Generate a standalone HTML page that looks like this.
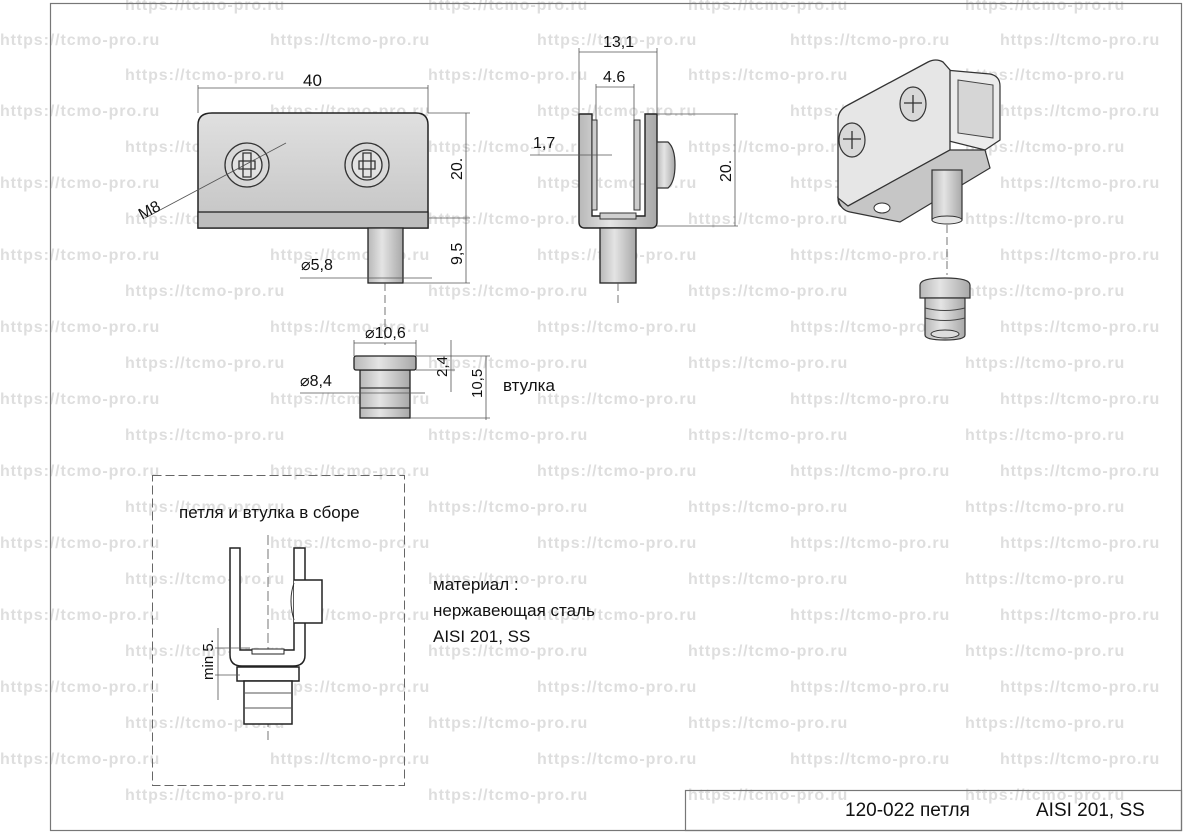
<!DOCTYPE html>
<html><head><meta charset="utf-8"><style>
html,body{margin:0;padding:0;background:#fff;}
svg{display:block;}
.wm{font-family:"Liberation Sans",sans-serif;font-weight:bold;font-size:16px;letter-spacing:0.9px;fill:#dedede;}
.t{font-family:"Liberation Sans","Noto Sans CJK SC",sans-serif;fill:#111;}
.ln{stroke:#555;stroke-width:0.8;fill:none;}
</style></head><body>
<svg width="1189" height="838" viewBox="0 0 1189 838" xmlns="http://www.w3.org/2000/svg">
<defs>
<linearGradient id="gv" x1="0" y1="0" x2="0" y2="1"><stop offset="0" stop-color="#e0e0e0"/><stop offset="1" stop-color="#c4c4c4"/></linearGradient>
<linearGradient id="gh" x1="0" y1="0" x2="1" y2="0"><stop offset="0" stop-color="#b8b8b8"/><stop offset="0.4" stop-color="#e4e4e4"/><stop offset="1" stop-color="#a8a8a8"/></linearGradient>
</defs>
<g class="wm">
<text x="125" y="10">https://tcmo-pro.ru</text><text x="428" y="10">https://tcmo-pro.ru</text><text x="688" y="10">https://tcmo-pro.ru</text><text x="965" y="10">https://tcmo-pro.ru</text>
<text x="0" y="45">https://tcmo-pro.ru</text><text x="270" y="45">https://tcmo-pro.ru</text><text x="537" y="45">https://tcmo-pro.ru</text><text x="790" y="45">https://tcmo-pro.ru</text><text x="1000" y="45">https://tcmo-pro.ru</text>
<text x="125" y="80">https://tcmo-pro.ru</text><text x="428" y="80">https://tcmo-pro.ru</text><text x="688" y="80">https://tcmo-pro.ru</text><text x="965" y="80">https://tcmo-pro.ru</text>
<text x="0" y="116">https://tcmo-pro.ru</text><text x="270" y="116">https://tcmo-pro.ru</text><text x="537" y="116">https://tcmo-pro.ru</text><text x="790" y="116">https://tcmo-pro.ru</text><text x="1000" y="116">https://tcmo-pro.ru</text>
<text x="125" y="152">https://tcmo-pro.ru</text><text x="428" y="152">https://tcmo-pro.ru</text><text x="688" y="152">https://tcmo-pro.ru</text><text x="965" y="152">https://tcmo-pro.ru</text>
<text x="0" y="188">https://tcmo-pro.ru</text><text x="270" y="188">https://tcmo-pro.ru</text><text x="537" y="188">https://tcmo-pro.ru</text><text x="790" y="188">https://tcmo-pro.ru</text><text x="1000" y="188">https://tcmo-pro.ru</text>
<text x="125" y="224">https://tcmo-pro.ru</text><text x="428" y="224">https://tcmo-pro.ru</text><text x="688" y="224">https://tcmo-pro.ru</text><text x="965" y="224">https://tcmo-pro.ru</text>
<text x="0" y="260">https://tcmo-pro.ru</text><text x="270" y="260">https://tcmo-pro.ru</text><text x="537" y="260">https://tcmo-pro.ru</text><text x="790" y="260">https://tcmo-pro.ru</text><text x="1000" y="260">https://tcmo-pro.ru</text>
<text x="125" y="296">https://tcmo-pro.ru</text><text x="428" y="296">https://tcmo-pro.ru</text><text x="688" y="296">https://tcmo-pro.ru</text><text x="965" y="296">https://tcmo-pro.ru</text>
<text x="0" y="332">https://tcmo-pro.ru</text><text x="270" y="332">https://tcmo-pro.ru</text><text x="537" y="332">https://tcmo-pro.ru</text><text x="790" y="332">https://tcmo-pro.ru</text><text x="1000" y="332">https://tcmo-pro.ru</text>
<text x="125" y="368">https://tcmo-pro.ru</text><text x="428" y="368">https://tcmo-pro.ru</text><text x="688" y="368">https://tcmo-pro.ru</text><text x="965" y="368">https://tcmo-pro.ru</text>
<text x="0" y="404">https://tcmo-pro.ru</text><text x="270" y="404">https://tcmo-pro.ru</text><text x="537" y="404">https://tcmo-pro.ru</text><text x="790" y="404">https://tcmo-pro.ru</text><text x="1000" y="404">https://tcmo-pro.ru</text>
<text x="125" y="440">https://tcmo-pro.ru</text><text x="428" y="440">https://tcmo-pro.ru</text><text x="688" y="440">https://tcmo-pro.ru</text><text x="965" y="440">https://tcmo-pro.ru</text>
<text x="0" y="476">https://tcmo-pro.ru</text><text x="270" y="476">https://tcmo-pro.ru</text><text x="537" y="476">https://tcmo-pro.ru</text><text x="790" y="476">https://tcmo-pro.ru</text><text x="1000" y="476">https://tcmo-pro.ru</text>
<text x="125" y="512">https://tcmo-pro.ru</text><text x="428" y="512">https://tcmo-pro.ru</text><text x="688" y="512">https://tcmo-pro.ru</text><text x="965" y="512">https://tcmo-pro.ru</text>
<text x="0" y="548">https://tcmo-pro.ru</text><text x="270" y="548">https://tcmo-pro.ru</text><text x="537" y="548">https://tcmo-pro.ru</text><text x="790" y="548">https://tcmo-pro.ru</text><text x="1000" y="548">https://tcmo-pro.ru</text>
<text x="125" y="584">https://tcmo-pro.ru</text><text x="428" y="584">https://tcmo-pro.ru</text><text x="688" y="584">https://tcmo-pro.ru</text><text x="965" y="584">https://tcmo-pro.ru</text>
<text x="0" y="620">https://tcmo-pro.ru</text><text x="270" y="620">https://tcmo-pro.ru</text><text x="537" y="620">https://tcmo-pro.ru</text><text x="790" y="620">https://tcmo-pro.ru</text><text x="1000" y="620">https://tcmo-pro.ru</text>
<text x="125" y="656">https://tcmo-pro.ru</text><text x="428" y="656">https://tcmo-pro.ru</text><text x="688" y="656">https://tcmo-pro.ru</text><text x="965" y="656">https://tcmo-pro.ru</text>
<text x="0" y="692">https://tcmo-pro.ru</text><text x="270" y="692">https://tcmo-pro.ru</text><text x="537" y="692">https://tcmo-pro.ru</text><text x="790" y="692">https://tcmo-pro.ru</text><text x="1000" y="692">https://tcmo-pro.ru</text>
<text x="125" y="728">https://tcmo-pro.ru</text><text x="428" y="728">https://tcmo-pro.ru</text><text x="688" y="728">https://tcmo-pro.ru</text><text x="965" y="728">https://tcmo-pro.ru</text>
<text x="0" y="764">https://tcmo-pro.ru</text><text x="270" y="764">https://tcmo-pro.ru</text><text x="537" y="764">https://tcmo-pro.ru</text><text x="790" y="764">https://tcmo-pro.ru</text><text x="1000" y="764">https://tcmo-pro.ru</text>
<text x="125" y="800">https://tcmo-pro.ru</text><text x="428" y="800">https://tcmo-pro.ru</text><text x="688" y="800">https://tcmo-pro.ru</text><text x="965" y="800">https://tcmo-pro.ru</text>
</g>
<rect x="50.5" y="3.5" width="1131" height="827" fill="none" stroke="#777" stroke-width="1.2"/>
<rect x="685.5" y="790.5" width="496" height="40" fill="none" stroke="#777" stroke-width="1.2"/>
<text class="t" x="845" y="816" font-size="19">120-022 петля</text>
<text class="t" x="1036" y="816" font-size="19">AISI 201, SS</text>

<!-- FRONT VIEW -->
<path d="M198,228 V125 Q198,113 212,113 H416 Q428,113 428,125 V228 Z" fill="url(#gv)" stroke="#222" stroke-width="1.5"/>
<rect x="198" y="212" width="230" height="16" fill="#bdbdbd" stroke="#222" stroke-width="1.3"/>
<g fill="#d8d8d8" stroke="#333" stroke-width="1.3">
<circle cx="247" cy="165" r="22"/><circle cx="247" cy="165" r="15" fill="#e2e2e2"/>
<circle cx="367" cy="165" r="22"/><circle cx="367" cy="165" r="15" fill="#e2e2e2"/>
</g>
<path d="M239,161h16v8h-16zM243,153h8v24h-8z" fill="none" stroke="#333" stroke-width="1.3"/>
<path d="M359,161h16v8h-16zM363,153h8v24h-8z" fill="none" stroke="#333" stroke-width="1.3"/>
<rect x="368" y="228" width="35" height="55" fill="url(#gh)" stroke="#222" stroke-width="1.3"/>
<g class="ln">
<path d="M198,113V85M428,113V85M198,88H428"/>
<path d="M428,113H470M428,218H470M403,283H470M466,113V283"/>
<path d="M300,278H432"/>
<path d="M145,218L286,143"/>
<path d="M385,283V345" stroke-dasharray="8,4"/>
</g>
<text class="t" x="303" y="86" font-size="17">40</text>
<text class="t" font-size="16" transform="translate(462,180) rotate(-90)">20.</text>
<text class="t" font-size="16" transform="translate(462,265) rotate(-90)">9,5</text>
<text class="t" x="301" y="270" font-size="16">⌀5,8</text>
<text class="t" font-size="16" transform="translate(142,220) rotate(-28)">M8</text>

<rect x="360" y="370" width="50" height="48" fill="url(#gh)" stroke="#222" stroke-width="1.3"/>
<path d="M360,388H410M360,408H410" stroke="#333" stroke-width="1.2"/>
<rect x="354" y="356" width="62" height="14" rx="2" fill="url(#gh)" stroke="#222" stroke-width="1.3"/>
<g class="ln">
<path d="M354,356V340M416,356V340M354,343H416"/>
<path d="M416,356H490M416,370H455M410,418H490M451,340V392M486,356V420"/>
<path d="M300,393H425"/>
</g>
<text class="t" x="365" y="338" font-size="16">⌀10,6</text>
<text class="t" x="300" y="386" font-size="16">⌀8,4</text>
<text class="t" font-size="15" transform="translate(447,377) rotate(-90)">2,4</text>
<text class="t" font-size="15" transform="translate(482,398) rotate(-90)">10,5</text>
<text class="t" x="503" y="391" font-size="17">втулка</text>

<!-- SIDE VIEW -->
<path d="M579,114H592V216H645V114H657V222Q657,228 651,228H585Q579,228 579,222Z" fill="url(#gh)" stroke="#222" stroke-width="1.4"/>
<rect x="592" y="120" width="5" height="90" fill="#ccc" stroke="#333" stroke-width="1"/>
<rect x="634" y="120" width="6" height="90" fill="#ccc" stroke="#333" stroke-width="1"/>
<path d="M657,142H668Q675,148 675,165Q675,182 668,188H657Z" fill="url(#gh)" stroke="#333" stroke-width="1.2"/>
<rect x="600" y="213" width="36" height="6" fill="#d0d0d0" stroke="#333"/>
<rect x="600" y="228" width="36" height="55" fill="url(#gh)" stroke="#222" stroke-width="1.3"/>
<g class="ln">
<path d="M579,114V48M657,114V48M579,52H657"/>
<path d="M596,120V84M634,120V84M596,87H634"/>
<path d="M530,155H612"/>
<path d="M657,114H738M657,226H738M735,114V226"/>
<path d="M618,283V305" stroke-dasharray="8,4"/>
</g>
<text class="t" x="603" y="47" font-size="16">13,1</text>
<text class="t" x="603" y="82" font-size="16">4.6</text>
<text class="t" x="533" y="148" font-size="16">1,7</text>
<text class="t" font-size="16" transform="translate(731,182) rotate(-90)">20.</text>

<!-- ISO VIEW -->
<path d="M945,70L990,74Q1000,76 1000,86V140L985,150L945,140Z" fill="#ececec" stroke="#333" stroke-width="1.2"/>
<path d="M958,80L993,85V138L958,133Z" fill="#d6d6d6" stroke="#444" stroke-width="1"/>
<path d="M838,120Q838,110 848,105L928,62Q936,58 943,62L950,70V150L848,206Q838,210 838,198Z" fill="#e6e6e6" stroke="#333" stroke-width="1.3"/>
<path d="M838,198Q840,210 850,212L900,222L990,168L985,150L950,150L848,206Z" fill="#c6c6c6" stroke="#333" stroke-width="1.2"/>
<ellipse cx="882" cy="208" rx="8" ry="5" fill="#fff" stroke="#333"/>
<ellipse cx="852" cy="140" rx="13" ry="17" fill="#d8d8d8" stroke="#333" stroke-width="1.2"/>
<ellipse cx="913" cy="104" rx="13" ry="17" fill="#d8d8d8" stroke="#333" stroke-width="1.2"/>
<path d="M843,139H861M852,131V149M904,103H922M913,95V113" stroke="#333" stroke-width="1.3"/>
<rect x="932" y="170" width="30" height="50" fill="url(#gh)" stroke="#333" stroke-width="1.2"/>
<ellipse cx="947" cy="220" rx="15" ry="4" fill="#e4e4e4" stroke="#333"/>
<path d="M947,225V275" class="ln" stroke-dasharray="8,4"/>
<path d="M920,285Q920,278 945,278Q970,278 970,285V298H920Z" fill="url(#gh)" stroke="#333" stroke-width="1.2"/>
<path d="M925,298H965V335Q965,340 945,340Q925,340 925,335Z" fill="url(#gh)" stroke="#333" stroke-width="1.2"/>
<path d="M925,308Q945,313 965,308M925,318Q945,323 965,318" stroke="#444" fill="none"/>
<ellipse cx="945" cy="334" rx="14" ry="4" fill="#ddd" stroke="#333"/>

<!-- ASSEMBLY -->
<rect x="152.5" y="475.5" width="252" height="310" fill="none" stroke="#666" stroke-width="1" stroke-dasharray="9,4"/>
<text class="t" x="179" y="518" font-size="17">петля и втулка в сборе</text>
<path d="M268,535V740" class="ln" stroke-dasharray="10,4"/>
<path d="M230,548H240V650H294V548H305V655Q305,666 293,666H242Q230,666 230,655Z" fill="#fff" stroke="#222" stroke-width="1.5"/>
<rect x="252" y="649" width="32" height="5" fill="#fff" stroke="#222"/>
<path d="M294,580H322V623H294" fill="#fff" stroke="#222" stroke-width="1.5"/>
<path d="M294,583Q288,600 294,620" fill="none" stroke="#333"/>
<rect x="237" y="667" width="62" height="14" fill="#fff" stroke="#222" stroke-width="1.5"/>
<rect x="244" y="681" width="48" height="43" fill="#fff" stroke="#222" stroke-width="1.5"/>
<path d="M244,693H292M244,708H292" stroke="#555"/>
<g class="ln"><path d="M215,648H250M215,675H240M218,628V700"/></g>
<text class="t" font-size="15" transform="translate(213,680) rotate(-90)">min 5.</text>
<text class="t" x="433" y="590" font-size="17">материал :</text>
<text class="t" x="433" y="616" font-size="17">нержавеющая сталь</text>
<text class="t" x="433" y="642" font-size="17">AISI 201, SS</text>
</svg>
</body></html>
